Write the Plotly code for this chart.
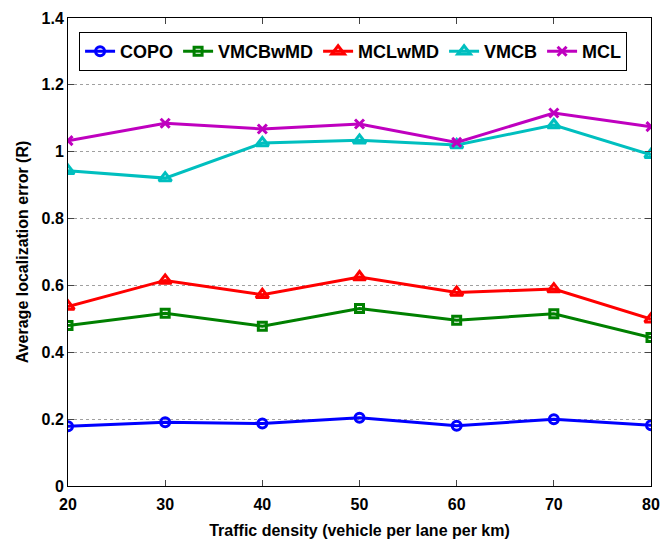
import plotly.graph_objects as go

density = [20, 30, 40, 50, 60, 70, 80]
copo = [0.179, 0.191, 0.187, 0.204, 0.180, 0.200, 0.182]
vmcbwmd = [0.480, 0.517, 0.478, 0.531, 0.496, 0.515, 0.444]
mclwmd = [0.537, 0.615, 0.572, 0.625, 0.579, 0.589, 0.499]
vmcb = [0.943, 0.921, 1.026, 1.034, 1.020, 1.080, 0.991]
mcl = [1.033, 1.085, 1.068, 1.083, 1.028, 1.116, 1.075]

x_ticks = [20, 30, 40, 50, 60, 70, 80]
y_ticks = [0, 0.2, 0.4, 0.6, 0.8, 1.0, 1.2, 1.4]
y_labels = ["0", "0.2", "0.4", "0.6", "0.8", "1", "1.2", "1.4"]

series = [
    ("COPO", copo, "#0000ff", "circle-open", 9),
    ("VMCBwMD", vmcbwmd, "#008000", "square-open", 8),
    ("MCLwMD", mclwmd, "#ff0000", "triangle-up-open", 11),
    ("VMCB", vmcb, "#00bfbf", "triangle-up-open", 11),
    ("MCL", mcl, "#bf00bf", "x-thin-open", 9),
]

FAM = "Liberation Sans, Arial"
fig = go.Figure()
for name, vals, col, sym, sz in series:
    fig.add_trace(go.Scatter(
        x=density, y=vals, name=name, mode="lines+markers",
        line=dict(color=col, width=3),
        marker=dict(symbol=sym, size=sz, color=col, line=dict(color=col, width=3)),
    ))

fig.update_layout(
    width=660, height=541,
    margin=dict(l=68, r=9, t=18, b=55),
    paper_bgcolor="white", plot_bgcolor="white",
    font=dict(family=FAM, size=16, color="black"),
    legend=dict(
        orientation="h", x=0.019, y=0.97, xanchor="left", yanchor="top",
        bgcolor="white", bordercolor="black", borderwidth=1,
        font=dict(family=FAM, size=18, color="black", weight="bold"),
        tracegroupgap=0,
    ),
    showlegend=True,
)
fig.update_xaxes(
    range=[20, 80], tickvals=x_ticks, ticks="inside", ticklen=6,
    showline=True, linecolor="black", linewidth=1, mirror="ticks",
    showgrid=False, zeroline=False, automargin=False, ticklabelstandoff=4,
    tickfont=dict(family=FAM, size=16, color="black", weight="bold"),
    title=dict(text="Traffic density (vehicle per lane per km)",
               font=dict(family=FAM, size=16, color="black", weight="bold"),
               standoff=12),
)
fig.update_yaxes(
    range=[0, 1.4], tickvals=y_ticks, ticktext=y_labels, ticks="inside", ticklen=6,
    showline=True, linecolor="black", linewidth=1, mirror="ticks",
    showgrid=True, gridcolor="#a0a0a0", griddash="dot", gridwidth=1, zeroline=False,
    automargin=False,
    tickfont=dict(family=FAM, size=16, color="black", weight="bold"),
    title=dict(text="Average localization error (R)",
               font=dict(family=FAM, size=16, color="black", weight="bold"),
               standoff=8),
)
fig.write_html("out.html")
